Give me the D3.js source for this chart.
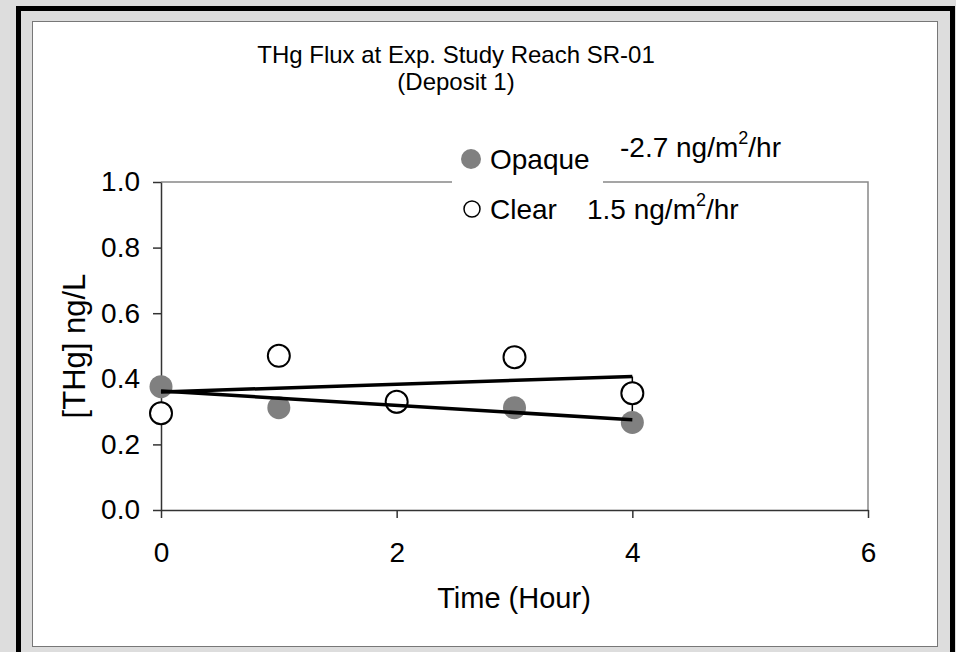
<!DOCTYPE html>
<meta charset="utf-8">
<style>
body { margin: 0; background: #dddddd; }
svg { display: block; font-family: "Liberation Sans", Arial, sans-serif; }
.axis path, .axis line { stroke: #333; stroke-width: 1.5; }
.axis text { font-size: 28px; fill: #000; }
</style>
<body>
<svg width="956" height="652"></svg>
<script src="https://cdnjs.cloudflare.com/ajax/libs/d3/7.8.5/d3.min.js"></script>
<script>

// values
var hours = [0, 1, 2, 3, 4];
var opaque = [0.376, 0.312, 0.328, 0.312, 0.267];
var clear = [0.295, 0.470, 0.330, 0.466, 0.356];
var seriesNames = ["Opaque", "Clear"];
var fluxRates = ["-2.7", "1.5"];
var xTicks = [0, 2, 4, 6];
var yTicks = [0, 0.2, 0.4, 0.6, 0.8, 1.0];

var svg = d3.select("svg");

// outer frame
svg.append("rect")
    .attr("x", 18.5).attr("y", 8.5)
    .attr("width", 934).attr("height", 660)
    .attr("fill", "#dddddd")
    .attr("stroke", "#000")
    .attr("stroke-width", 5);

svg.append("rect")
    .attr("x", 32.5).attr("y", 21.5)
    .attr("width", 905).attr("height", 625)
    .attr("fill", "#fff")
    .attr("stroke", "#777")
    .attr("stroke-width", 1);

var x = d3.scaleLinear().domain([0, 6]).range([161, 868]);
var y = d3.scaleLinear().domain([0, 1]).range([510, 182]);

// plot area border (top & right)
svg.append("path")
    .attr("d", "M" + x(0) + "," + y(1) + "H" + x(6) + "V" + y(0))
    .attr("fill", "none")
    .attr("stroke", "#888")
    .attr("stroke-width", 1.5);

svg.append("g")
    .attr("class", "axis")
    .attr("transform", "translate(0," + y(0) + ")")
    .call(d3.axisBottom(x).tickValues(xTicks).tickFormat(d3.format("d"))
      .tickSize(8).tickPadding(24).tickSizeOuter(0));

svg.append("g")
    .attr("class", "axis")
    .attr("transform", "translate(" + x(0) + ",0)")
    .call(d3.axisLeft(y).tickValues(yTicks).tickFormat(d3.format(".1f"))
      .tickSize(8).tickPadding(13).tickSizeOuter(0));

// title
var title = svg.append("text")
    .attr("text-anchor", "middle")
    .attr("font-size", 24);
title.append("tspan").attr("x", 456).attr("y", 63).text("THg Flux at Exp. Study Reach SR-01");
title.append("tspan").attr("x", 456).attr("y", 90).text("(Deposit 1)");

svg.append("text")
    .attr("x", 514).attr("y", 608)
    .attr("text-anchor", "middle")
    .attr("font-size", 29)
    .text("Time (Hour)");

svg.append("text")
    .attr("transform", "translate(85,346) rotate(-90)")
    .attr("text-anchor", "middle")
    .attr("font-size", 31)
    .text("[THg] ng/L");

// linear fits
function fit(xs, ys) {
  var mx = d3.mean(xs), my = d3.mean(ys);
  var sxy = d3.sum(xs, function(d, i) { return (d - mx) * (ys[i] - my); });
  var sxx = d3.sum(xs, function(d) { return (d - mx) * (d - mx); });
  var b = sxy / sxx;
  return [my - b * mx, b];
}
var fits = [fit(hours, opaque), fit(hours, clear)];
var x0 = d3.min(hours), x1 = d3.max(hours);

// small drop line at last hour between the two fits
svg.append("line")
    .attr("x1", x(x1)).attr("x2", x(x1))
    .attr("y1", y(fits[0][0] + fits[0][1] * x1))
    .attr("y2", y(fits[1][0] + fits[1][1] * x1))
    .attr("stroke", "#000").attr("stroke-width", 1.5);

svg.append("g").selectAll("circle")
    .data(opaque)
    .join("circle")
    .attr("cx", function(d, i) { return x(hours[i]); })
    .attr("cy", function(d) { return y(d); })
    .attr("r", 11.5)
    .attr("fill", "#808080");

svg.append("g").selectAll("circle")
    .data(clear)
    .join("circle")
    .attr("cx", function(d, i) { return x(hours[i]); })
    .attr("cy", function(d) { return y(d); })
    .attr("r", 11)
    .attr("fill", "#fff")
    .attr("stroke", "#000")
    .attr("stroke-width", 2);

svg.append("g").selectAll("line")
    .data(fits)
    .join("line")
    .attr("x1", x(x0)).attr("x2", x(x1))
    .attr("y1", function(d) { return y(d[0] + d[1] * x0); })
    .attr("y2", function(d) { return y(d[0] + d[1] * x1); })
    .attr("stroke", "#000")
    .attr("stroke-width", 3.5);

// legend
var lg = svg.append("g");
lg.append("rect")
    .attr("x", 452).attr("y", 138)
    .attr("width", 151).attr("height", 95)
    .attr("fill", "#fff");

lg.append("circle").attr("cx", 471).attr("cy", 159).attr("r", 10).attr("fill", "#808080");
lg.append("circle").attr("cx", 472).attr("cy", 209).attr("r", 8)
    .attr("fill", "#fff").attr("stroke", "#000").attr("stroke-width", 1.5);

lg.selectAll("text.name")
    .data(seriesNames)
    .join("text")
    .attr("class", "name")
    .attr("x", 490)
    .attr("y", function(d, i) { return i === 0 ? 169 : 219; })
    .attr("font-size", 28)
    .text(function(d) { return d; });

var rates = svg.selectAll("text.rate")
    .data(fluxRates)
    .join("text")
    .attr("class", "rate")
    .attr("x", function(d, i) { return i === 0 ? 620 : 587; })
    .attr("y", function(d, i) { return i === 0 ? 157 : 219; })
    .attr("font-size", 28);
rates.append("tspan").text(function(d) { return d + " ng/m"; });
rates.append("tspan").attr("font-size", 18).attr("dy", -13).text("2");
rates.append("tspan").attr("dy", 13).text("/hr");

</script>
</body>
